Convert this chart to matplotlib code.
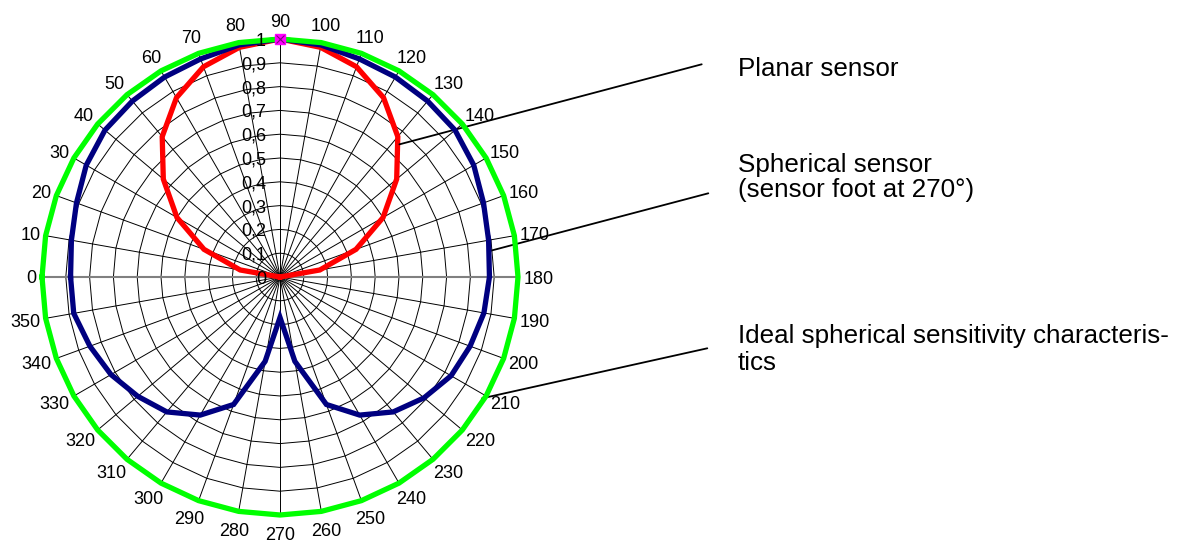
import numpy as np
import matplotlib
matplotlib.use("Agg")
import matplotlib.pyplot as plt

plt.rcParams['font.family'] = ['Liberation Sans', 'DejaVu Sans']

# --- data ---
angles_deg = list(range(0, 360, 10))
angle_labels = [str(a) for a in angles_deg]
value_ticks = [0, 0.1, 0.2, 0.3, 0.4, 0.5, 0.6, 0.7, 0.8, 0.9, 1.0]
value_labels = ['0', '0,1', '0,2', '0,3', '0,4', '0,5', '0,6', '0,7', '0,8', '0,9', '1']

planar = [0, 0.17, 0.34, 0.50, 0.64, 0.77, 0.87, 0.94, 0.98, 1.0,
          0.98, 0.94, 0.87, 0.77, 0.64, 0.50, 0.34, 0.17, 0,
          0, 0, 0, 0, 0, 0, 0, 0, 0, 0, 0, 0, 0, 0, 0, 0, 0]
spherical = [0.88, 0.89, 0.91, 0.94, 0.96, 0.965, 0.97, 0.975, 0.99, 1.0,
             0.99, 0.975, 0.97, 0.965, 0.96, 0.94, 0.91, 0.89, 0.88,
             0.87, 0.85, 0.83, 0.79, 0.74, 0.67, 0.57, 0.36, 0.17,
             0.36, 0.57, 0.67, 0.74, 0.78, 0.82, 0.85, 0.88]
ideal = [1.0] * 36
marker_angle = 90
marker_value = 1.0

names = ['Planar sensor',
         'Spherical sensor\n(sensor foot at 270°)',
         'Ideal spherical sensitivity characteris-\ntics']
# where each leader line touches its curve (angle, value)
leader_xy = [(132, 0.75), (173, 0.88), (211, 0.99)]

# --- figure ---
W, H = 1192, 544
fig = plt.figure(figsize=(W / 100, H / 100), dpi=100)
ax = fig.add_axes([42 / W, 29 / H, 476 / W, 476 / H], projection='polar')
ax.set_theta_zero_location('W')
ax.set_theta_direction(-1)
ax.set_ylim(0, 1)
ax.grid(False)
ax.set_xticks([])
ax.set_yticks([])
ax.spines['polar'].set_visible(False)
ax.patch.set_alpha(0)

th = np.deg2rad(angles_deg + [360])

def close(v):
    return list(v) + [v[0]]

# grid rings (polygons like the radar chart)
for r in value_ticks[1:]:
    ax.plot(th, [r] * len(th), color='black', lw=0.7, clip_on=False, zorder=1)
# spokes
for a in angles_deg:
    if a in (0, 180):
        continue
    ax.plot([np.deg2rad(a)] * 2, [0, 1], color='black', lw=0.7, clip_on=False, zorder=1)
ax.plot([0, 0], [0, 1], color='#808080', lw=1.5, clip_on=False, zorder=1.5)
ax.plot([np.pi, np.pi], [0, 1], color='#808080', lw=1.5, clip_on=False, zorder=1.5)

# series
ax.plot(th, close(planar), color='#FF0000', lw=3.8, clip_on=False, zorder=3,
        solid_joinstyle='miter')
ax.plot(th, close(spherical), color='#000080', lw=3.8, clip_on=False, zorder=4,
        solid_joinstyle='miter')
ax.plot(th, close(ideal), color='#00FF00', lw=3.8, clip_on=False, zorder=5,
        solid_joinstyle='miter')
ax.plot([np.deg2rad(marker_angle)], [marker_value], marker='s', ms=7,
        mfc='#FF00FF', mec='#FF00FF', ls='none', clip_on=False, zorder=6)
ax.plot([np.deg2rad(marker_angle)], [marker_value], marker='x', ms=6, mew=0.8,
        color='#800080', ls='none', clip_on=False, zorder=7)

# angle labels
fs = 13
for a, lab in zip(angles_deg, angle_labels):
    t = np.deg2rad(a)
    dx, dy = -np.cos(t), np.sin(t)
    w = len(lab) * 0.556 * fs
    h = 0.75 * fs
    R = 1.022 + 0.028 * dy ** 2
    ax.annotate(lab, xy=(t, R), xytext=(dx * w / 2, dy * h / 2),
                textcoords='offset points', ha='center', va='center_baseline',
                fontsize=fs, annotation_clip=False)

# value labels along the 90 degree spoke
for r, lab in zip(value_ticks, value_labels):
    ax.annotate(lab, xy=(np.pi / 2, r), xytext=(-10, 0),
                textcoords='offset points', ha='right', va='center_baseline',
                fontsize=fs, annotation_clip=False, zorder=8)

# leader lines
ends = [(701.7, H - 64.3), (708.3, H - 193.3), (707.3, H - 348.3)]
for (a, r), (ex, ey) in zip(leader_xy, ends):
    ax.annotate('', xy=(np.deg2rad(a), r), xytext=(ex, ey),
                textcoords='figure pixels', annotation_clip=False,
                arrowprops=dict(arrowstyle='-', color='black', lw=1.3,
                                shrinkA=0, shrinkB=0))

# series names
baselines = [[75.7], [171.7, 197.3], [343.3, 370.0]]
for name, bl in zip(names, baselines):
    for line, yb in zip(name.split('\n'), bl):
        fig.text(738 / W, (H - yb) / H, line, fontsize=18.7,
                 ha='left', va='baseline')

fig.savefig('out.png', dpi=100)
